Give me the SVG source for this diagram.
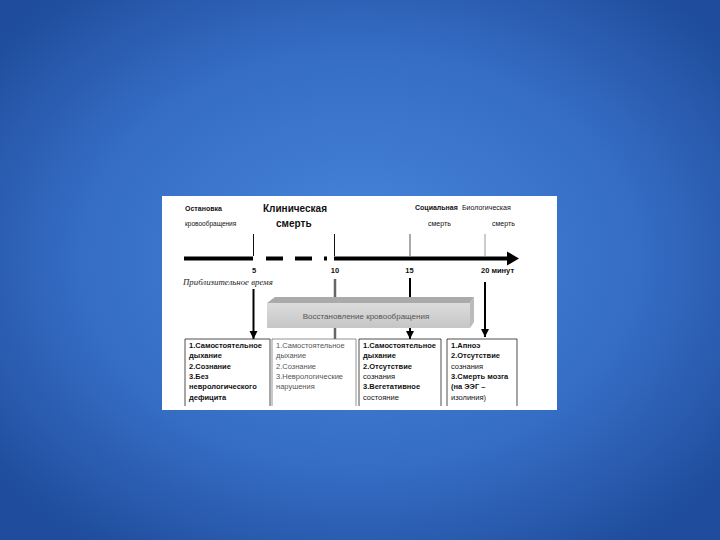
<svg xmlns="http://www.w3.org/2000/svg" width="720" height="540" viewBox="0 0 720 540">
<defs>
<radialGradient id="bg" cx="50%" cy="48%" r="65%">
<stop offset="0" stop-color="#4886DC"/>
<stop offset="0.6" stop-color="#356DC4"/>
<stop offset="1" stop-color="#1F4C9C"/>
</radialGradient>
<linearGradient id="front" x1="0" y1="0" x2="0" y2="1">
<stop offset="0" stop-color="#dcdcdc"/>
<stop offset="1" stop-color="#c6c6c6"/>
</linearGradient>
<marker id="ah" markerUnits="userSpaceOnUse" markerWidth="8" markerHeight="9" refX="8" refY="4" orient="auto">
<path d="M0,0 L8,4 L0,8 z" fill="#000"/>
</marker>
<style>
text{font-family:"Liberation Sans","DejaVu Sans",sans-serif;fill:#111}
text.it{font-family:"Liberation Serif","DejaVu Serif",serif;font-style:italic;font-size:8.8px;fill:#222}
.b{font-weight:bold}
.s{font-size:7px}
.n{font-size:7.5px;font-weight:bold}
.bx{font-size:7.5px}
.g{fill:#555}
.tick{stroke:#111;stroke-width:1}
.gtick{stroke:#999;stroke-width:1}
.axis{stroke:#000;stroke-width:4;fill:none}
.conn{stroke:#000;stroke-width:2;fill:none}
.box{fill:none;stroke:#222;stroke-width:0.8}
.gbox{fill:none;stroke:#777;stroke-width:0.8}
</style>
</defs>
<rect width="720" height="540" fill="url(#bg)"/>
<rect x="162" y="196" width="395" height="214" fill="#fff"/>

<g id="labels">
<text class="b s" x="185" y="211">Остановка</text>
<text x="185" y="226" font-size="6.5">кровообращения</text>
<text class="b" x="263" y="211.5" font-size="10">Клиническая</text>
<text class="b" x="276" y="226.5" font-size="10">смерть</text>
<text class="b s" x="415" y="210">Социальная</text>
<text class="s" x="462" y="210">Биологическая</text>
<text class="s" x="428" y="226">смерть</text>
<text class="s" x="492" y="226">смерть</text>
<text class="n" x="254" y="273" text-anchor="middle">5</text>
<text class="n" x="335" y="273" text-anchor="middle">10</text>
<text class="n" x="409.5" y="273" text-anchor="middle">15</text>
<text class="n" x="481" y="273">20 минут</text>
<text class="it" x="183" y="285">Приблизительное время</text>
</g>

<g id="connectors">
<line class="tick" x1="253.5" y1="234" x2="253.5" y2="256"/>
<line class="tick" x1="334.5" y1="234" x2="334.5" y2="256"/>
<line x1="410" y1="234" x2="410" y2="256" stroke="#555" stroke-width="1"/>
<line class="gtick" x1="485" y1="234" x2="485" y2="256"/>
<line class="axis" x1="184" y1="258.5" x2="253" y2="258.5"/>
<line class="axis" x1="266" y1="258.5" x2="283" y2="258.5"/>
<line class="axis" x1="295" y1="258.5" x2="312" y2="258.5"/>
<line class="axis" x1="324" y1="258.5" x2="327" y2="258.5"/>
<line class="axis" x1="334" y1="258.5" x2="509" y2="258.5"/>
<polygon points="507,251.5 519,258.5 507,265.5" fill="#000"/>
<line class="conn" x1="253.5" y1="289" x2="253.5" y2="339" marker-end="url(#ah)"/>
<line x1="335" y1="279" x2="335" y2="339" stroke="#666" stroke-width="2.5"/>
<line class="conn" x1="410" y1="278" x2="410" y2="339" marker-end="url(#ah)"/>
<line class="conn" x1="485" y1="282" x2="485" y2="337" marker-end="url(#ah)"/>
</g>

<g id="restoration">
<polygon points="267,303 275,297 474,297 470,303" fill="#aaaaaa"/>
<polygon points="470,303 474,297 474,322 470,328" fill="#bbbbbb"/>
<rect x="267" y="303" width="203" height="25" fill="url(#front)"/>
<text x="366" y="318.5" font-size="8" text-anchor="middle" class="g">Восстановление кровообращения</text>
</g>

<g id="box1">
<path class="box" d="M185,406 V339 H270 V406"/>
<text class="b bx" x="189" y="348">1.Самостоятельное</text>
<text class="b bx" x="189" y="358.3">дыхание</text>
<text class="b bx" x="189" y="368.6">2.Сознание</text>
<text class="b bx" x="189" y="378.9">3.Без</text>
<text class="b bx" x="189" y="389.2">неврологического</text>
<text class="b bx" x="189" y="399.5">дефицита</text>
</g>

<g id="box2">
<path class="gbox" d="M272,406 V339 H356 V406"/>
<text class="bx g" x="276" y="348">1.Самостоятельное</text>
<text class="bx g" x="276" y="358.3">дыхание</text>
<text class="bx g" x="276" y="368.6">2.Сознание</text>
<text class="bx g" x="276" y="378.9">3.Неврологические</text>
<text class="bx g" x="276" y="389.2">нарушения</text>
</g>

<g id="box3">
<path class="box" d="M359,406 V339 H441 V406"/>
<text class="b bx" x="363" y="348">1.Самостоятельное</text>
<text class="b bx" x="363" y="358.3">дыхание</text>
<text class="b bx" x="363" y="368.6">2.Отсутствие</text>
<text class="bx" x="363" y="378.9">сознания</text>
<text class="b bx" x="363" y="389.2">3.Вегетативное</text>
<text class="bx" x="363" y="399.5">состояние</text>
</g>

<g id="box4">
<path class="box" d="M447,406 V339 H517 V406"/>
<text class="b bx" x="451" y="348">1.Апноэ</text>
<text class="b bx" x="451" y="358.3">2.Отсутствие</text>
<text class="bx" x="451" y="368.6">сознания</text>
<text class="b bx" x="451" y="378.9">3.Смерть мозга</text>
<text class="b bx" x="451" y="389.2">(на ЭЭГ –</text>
<text class="bx" x="451" y="399.5">изолиния)</text>
</g>
</svg>
